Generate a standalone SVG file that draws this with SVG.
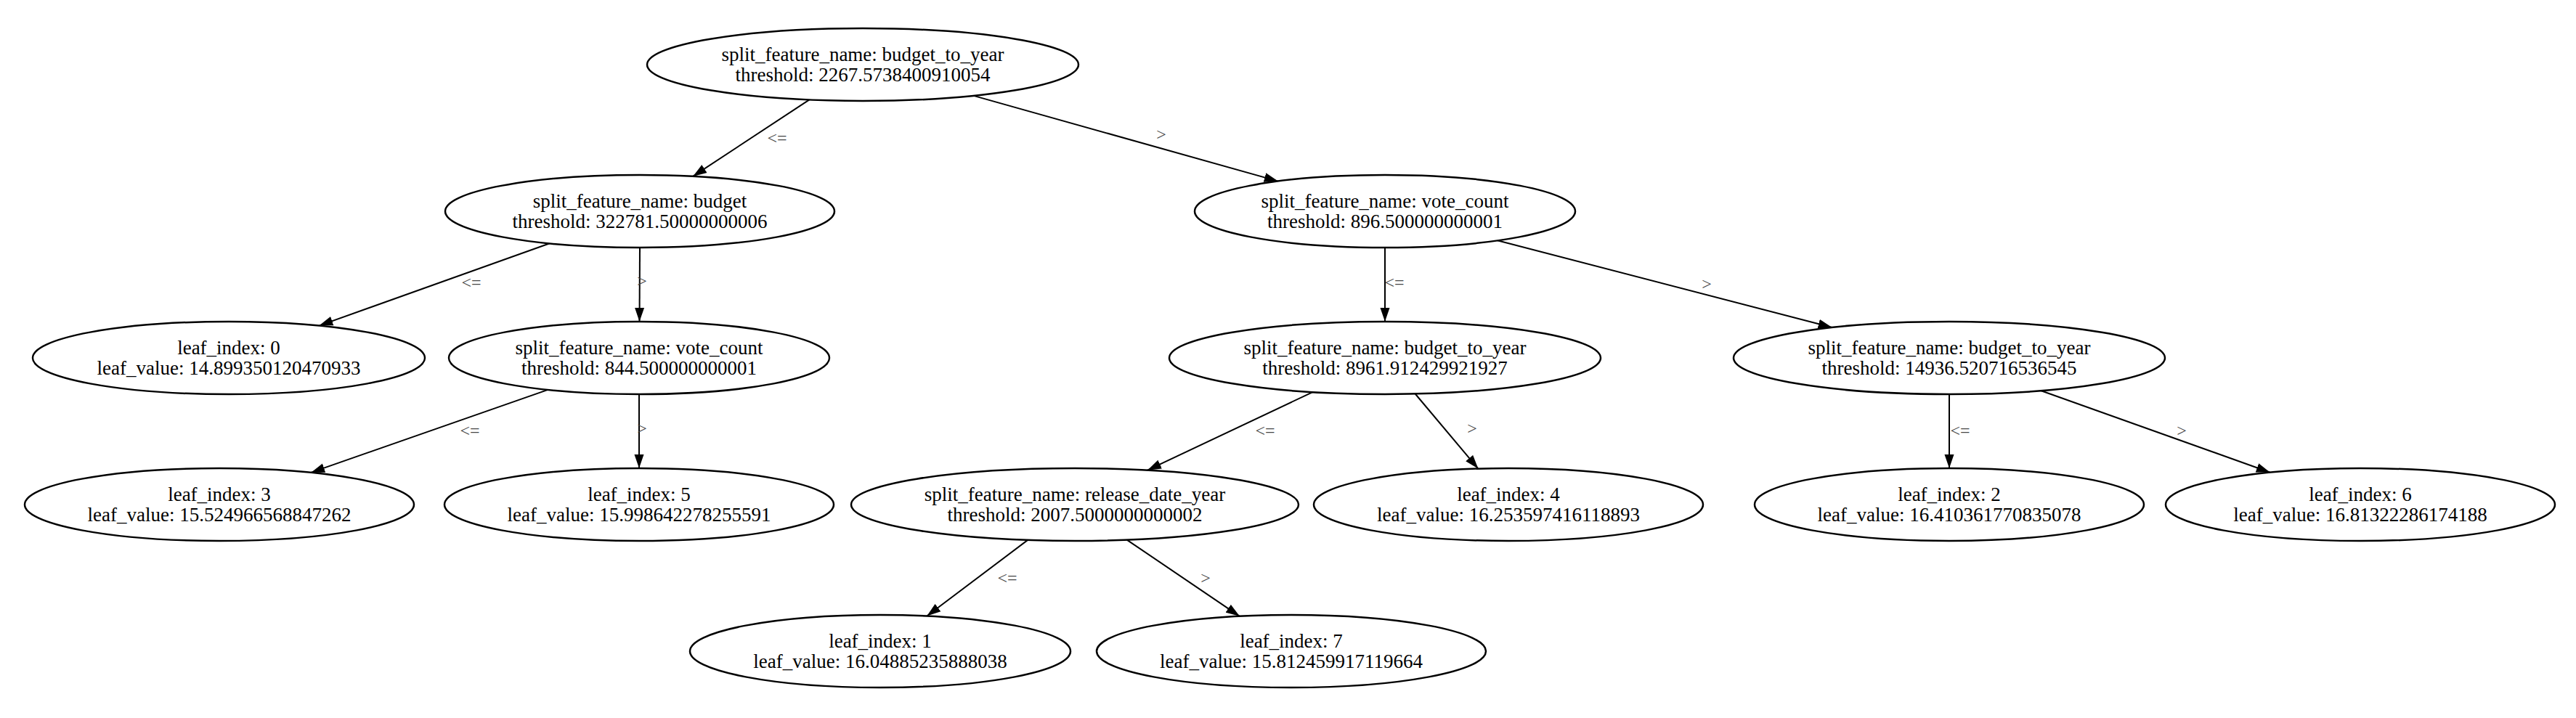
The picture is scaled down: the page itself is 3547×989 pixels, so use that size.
<svg xmlns="http://www.w3.org/2000/svg" width="3547" height="989" viewBox="0 0 3547 989">
<defs>
<marker id="arr" markerUnits="userSpaceOnUse" markerWidth="20" markerHeight="14" refX="19" refY="7" orient="auto">
<path d="M0,0.5 L19,7 L0,13.5 z" fill="#000"/>
</marker>
<style>
.n ellipse{fill:#fff;stroke:#000;stroke-width:2.5}
.n text{font-family:"Liberation Serif","Times New Roman",serif;font-size:27px;fill:#000;text-anchor:middle}
#edges line{stroke:#000;stroke-width:2;marker-end:url(#arr)}
#edges text{font-family:"Liberation Serif","Times New Roman",serif;font-size:24px;fill:#444;text-anchor:middle}
</style>
</defs>
<rect width="3547" height="989" fill="#fff"/>
<g id="edges">
<line x1="1114.4" y1="137.4" x2="954.1" y2="242.9"/>
<text x="1070" y="198">&lt;=</text>
<line x1="1340.7" y1="131.9" x2="1759.8" y2="249.6"/>
<text x="1599" y="193">&gt;</text>
<line x1="756.8" y1="335.3" x2="439.4" y2="448.6"/>
<text x="649" y="397">&lt;=</text>
<line x1="881" y1="341" x2="880.5" y2="443"/>
<text x="884" y="395">&gt;</text>
<line x1="1907" y1="341" x2="1907" y2="443"/>
<text x="1920" y="397">&lt;=</text>
<line x1="2062" y1="331.3" x2="2522.6" y2="451"/>
<text x="2350" y="399">&gt;</text>
<line x1="754.4" y1="536.9" x2="428.2" y2="650.9"/>
<text x="647" y="601">&lt;=</text>
<line x1="880" y1="543" x2="880" y2="645"/>
<text x="884" y="598">&gt;</text>
<line x1="1807.4" y1="540.1" x2="1580" y2="647.7"/>
<text x="1742" y="601">&lt;=</text>
<line x1="1948.7" y1="542.5" x2="2035.4" y2="645.6"/>
<text x="2027" y="598">&gt;</text>
<line x1="2684" y1="543" x2="2684" y2="645"/>
<text x="2699" y="601">&lt;=</text>
<line x1="2810.7" y1="538.2" x2="3125.8" y2="650.7"/>
<text x="3004" y="601">&gt;</text>
<line x1="1415.1" y1="743.9" x2="1276.3" y2="848.5"/>
<text x="1387" y="804">&lt;=</text>
<line x1="1551.7" y1="743.6" x2="1706.9" y2="848.8"/>
<text x="1660" y="804">&gt;</text>
</g>
<g id="n0" class="n"><ellipse cx="1188" cy="89" rx="297" ry="50"/><text x="1188" y="84">split_feature_name: budget_to_year</text><text x="1188" y="112">threshold: 2267.5738400910054</text></g>
<g id="n1" class="n"><ellipse cx="881" cy="291" rx="268" ry="50"/><text x="881" y="286">split_feature_name: budget</text><text x="881" y="314">threshold: 322781.50000000006</text></g>
<g id="n2" class="n"><ellipse cx="1907" cy="291" rx="262" ry="50"/><text x="1907" y="286">split_feature_name: vote_count</text><text x="1907" y="314">threshold: 896.500000000001</text></g>
<g id="n3" class="n"><ellipse cx="315" cy="493" rx="270" ry="50"/><text x="315" y="488">leaf_index: 0</text><text x="315" y="516">leaf_value: 14.899350120470933</text></g>
<g id="n4" class="n"><ellipse cx="880" cy="493" rx="262" ry="50"/><text x="880" y="488">split_feature_name: vote_count</text><text x="880" y="516">threshold: 844.500000000001</text></g>
<g id="n5" class="n"><ellipse cx="1907" cy="493" rx="297" ry="50"/><text x="1907" y="488">split_feature_name: budget_to_year</text><text x="1907" y="516">threshold: 8961.912429921927</text></g>
<g id="n6" class="n"><ellipse cx="2684" cy="493" rx="297" ry="50"/><text x="2684" y="488">split_feature_name: budget_to_year</text><text x="2684" y="516">threshold: 14936.520716536545</text></g>
<g id="n7" class="n"><ellipse cx="302" cy="695" rx="268" ry="50"/><text x="302" y="690">leaf_index: 3</text><text x="302" y="718">leaf_value: 15.524966568847262</text></g>
<g id="n8" class="n"><ellipse cx="880" cy="695" rx="268" ry="50"/><text x="880" y="690">leaf_index: 5</text><text x="880" y="718">leaf_value: 15.998642278255591</text></g>
<g id="n9" class="n"><ellipse cx="1480" cy="695" rx="308" ry="50"/><text x="1480" y="690">split_feature_name: release_date_year</text><text x="1480" y="718">threshold: 2007.5000000000002</text></g>
<g id="n10" class="n"><ellipse cx="2077" cy="695" rx="268" ry="50"/><text x="2077" y="690">leaf_index: 4</text><text x="2077" y="718">leaf_value: 16.253597416118893</text></g>
<g id="n11" class="n"><ellipse cx="2684" cy="695" rx="268" ry="50"/><text x="2684" y="690">leaf_index: 2</text><text x="2684" y="718">leaf_value: 16.410361770835078</text></g>
<g id="n12" class="n"><ellipse cx="3250" cy="695" rx="268" ry="50"/><text x="3250" y="690">leaf_index: 6</text><text x="3250" y="718">leaf_value: 16.81322286174188</text></g>
<g id="n13" class="n"><ellipse cx="1212" cy="897" rx="262" ry="50"/><text x="1212" y="892">leaf_index: 1</text><text x="1212" y="920">leaf_value: 16.04885235888038</text></g>
<g id="n14" class="n"><ellipse cx="1778" cy="897" rx="268" ry="50"/><text x="1778" y="892">leaf_index: 7</text><text x="1778" y="920">leaf_value: 15.812459917119664</text></g>
</svg>
